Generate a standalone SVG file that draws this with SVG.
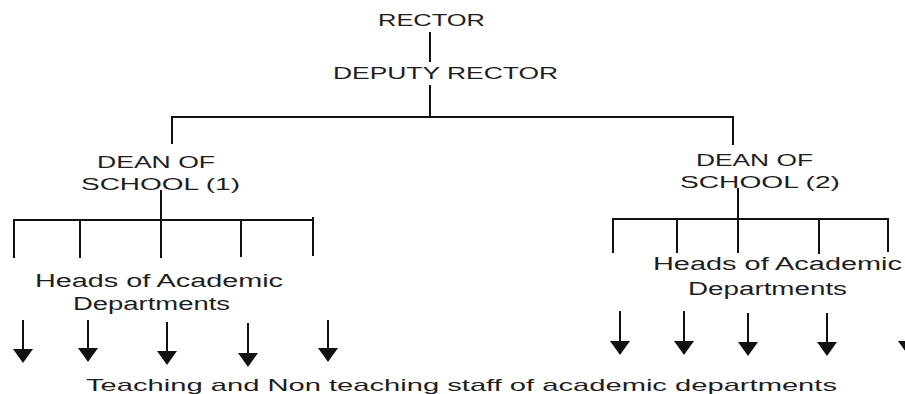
<svg xmlns="http://www.w3.org/2000/svg" width="905" height="394" viewBox="0 0 905 394">
<style>
text{font-family:"Liberation Sans",Arial,sans-serif;font-size:16px;fill:#1e1e1e}
.c line{stroke:#111;stroke-width:2}
.big{font-size:18px}
.bot{font-size:17px}
</style>
<defs>
<marker id="ah" markerUnits="userSpaceOnUse" markerWidth="14" markerHeight="20" viewBox="0 0 14 20" refX="7" refY="10" orient="auto">
<path d="M0,0 L14,10 L0,20 z" fill="#111"/>
</marker>
</defs>
<rect width="905" height="394" fill="#fff"/>
<g class="c" id="connectors">
<line x1="430" y1="32" x2="430" y2="62"/>
<line x1="430" y1="85" x2="430" y2="117"/>
<line x1="171" y1="117" x2="734" y2="117"/>
<line x1="172" y1="116" x2="172" y2="144"/>
<line x1="733" y1="116" x2="733" y2="145"/>
<line x1="161" y1="190" x2="161" y2="258"/>
<line x1="13" y1="220" x2="313" y2="220"/>
<line x1="14" y1="219" x2="14" y2="258"/>
<line x1="80" y1="219" x2="80" y2="258"/>
<line x1="241" y1="219" x2="241" y2="257"/>
<line x1="313" y1="217" x2="313" y2="256"/>
<line x1="738" y1="188" x2="738" y2="253"/>
<line x1="612" y1="219" x2="889" y2="219"/>
<line x1="613" y1="218" x2="613" y2="253"/>
<line x1="677" y1="218" x2="677" y2="253"/>
<line x1="819" y1="218" x2="819" y2="254"/>
<line x1="888" y1="218" x2="888" y2="252"/>
<line x1="23" y1="320" x2="23" y2="356" marker-end="url(#ah)"/>
<line x1="88" y1="320" x2="88" y2="355" marker-end="url(#ah)"/>
<line x1="167" y1="322" x2="167" y2="358" marker-end="url(#ah)"/>
<line x1="248" y1="323" x2="248" y2="360" marker-end="url(#ah)"/>
<line x1="328" y1="320" x2="328" y2="355" marker-end="url(#ah)"/>
<line x1="620" y1="311" x2="620" y2="348" marker-end="url(#ah)"/>
<line x1="684" y1="311" x2="684" y2="348" marker-end="url(#ah)"/>
<line x1="748" y1="313" x2="748" y2="349" marker-end="url(#ah)"/>
<line x1="827" y1="313" x2="827" y2="349" marker-end="url(#ah)"/>
<line x1="908" y1="311" x2="908" y2="348" marker-end="url(#ah)"/>
</g>
<g id="rector"><text x="378" y="26" textLength="107" lengthAdjust="spacingAndGlyphs">RECTOR</text></g>
<g id="deputy-rector"><text x="333" y="79" textLength="225" lengthAdjust="spacingAndGlyphs">DEPUTY RECTOR</text></g>
<g id="dean1">
<text x="97" y="168" textLength="118" lengthAdjust="spacingAndGlyphs">DEAN OF</text>
<text x="81" y="190" textLength="159" lengthAdjust="spacingAndGlyphs">SCHOOL (1)</text>
</g>
<g id="dean2">
<text x="696" y="166" textLength="117" lengthAdjust="spacingAndGlyphs">DEAN OF</text>
<text x="680" y="188" textLength="160" lengthAdjust="spacingAndGlyphs">SCHOOL (2)</text>
</g>
<g id="heads1">
<text class="big" x="35" y="287" textLength="248" lengthAdjust="spacingAndGlyphs">Heads of Academic</text>
<text class="big" x="73" y="310" textLength="157" lengthAdjust="spacingAndGlyphs">Departments</text>
</g>
<g id="heads2">
<text class="big" x="653" y="270" textLength="249" lengthAdjust="spacingAndGlyphs">Heads of Academic</text>
<text class="big" x="688" y="295" textLength="159" lengthAdjust="spacingAndGlyphs">Departments</text>
</g>
<g id="staff"><text class="bot" x="86" y="391" textLength="751" lengthAdjust="spacingAndGlyphs">Teaching and Non teaching staff of academic departments</text></g>
</svg>
